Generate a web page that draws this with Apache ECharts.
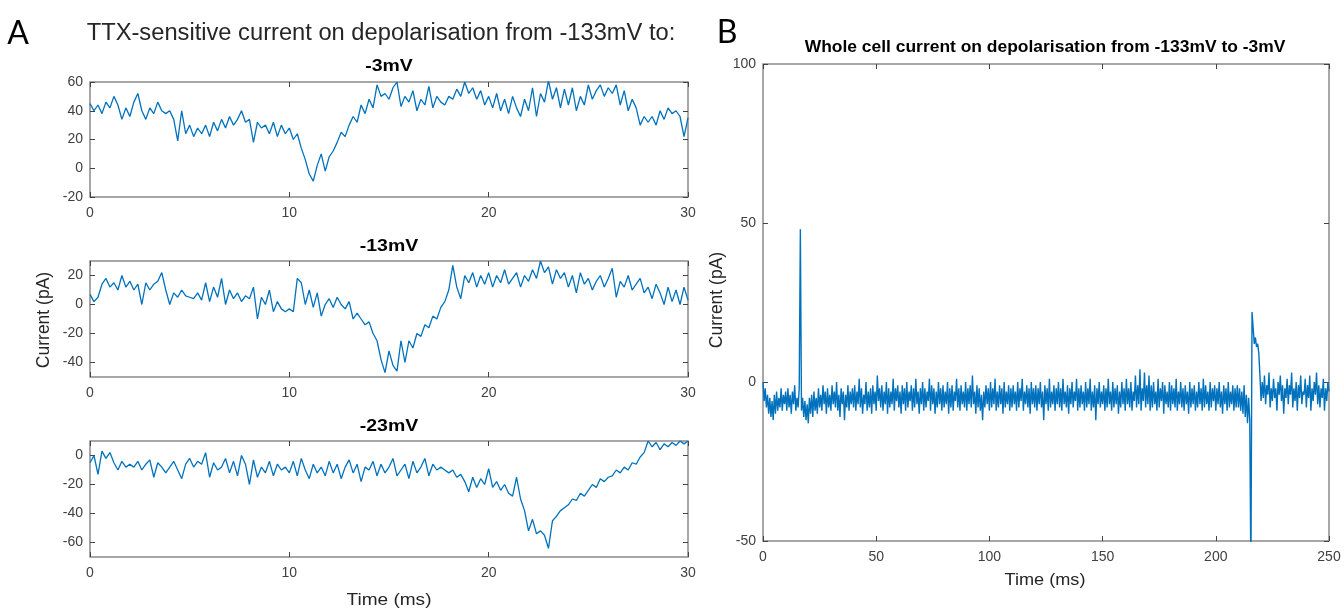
<!DOCTYPE html>
<html><head><meta charset="utf-8">
<script src="https://cdn.jsdelivr.net/npm/echarts@6/dist/echarts.min.js"></script>
<style>html,body{margin:0;padding:0;background:#fff}#c{width:1344px;height:612px}</style>
</head><body><div id="c"></div>
<script>
// ---------------- DATA ----------------
const panelLabels = ['A', 'B'];
const titleA = 'TTX-sensitive current on depolarisation from -133mV to:';
const titleB = 'Whole cell current on depolarisation from -133mV to -3mV';
const panelTitlesA = ['-3mV', '-13mV', '-23mV'];
const axisNameY = 'Current (pA)';
const axisNameX = 'Time (ms)';

const stepA = 0.2; // ms between samples in panel A traces
const currentA3mV = [
  45,40,44,38,46,42,50,44,34,42,
  36,46,52,40,34,42,38,46,40,38,
  40,34,19,40,24,30,22,28,24,30,
  22,32,26,34,28,36,30,34,40,32,
  34,18,32,28,30,24,32,22,30,24,
  28,20,24,14,6,-4,-9,2,10,-2,
  8,12,18,25,22,30,36,32,44,38,
  48,42,58,50,52,48,56,60,43,50,
  46,54,40,48,44,57,42,50,46,44,
  50,48,55,50,60,52,56,48,54,44,
  50,42,52,40,48,38,50,42,36,48,
  40,56,36,52,46,61,48,56,42,55,
  44,56,40,50,44,58,48,54,58,50,
  56,52,58,44,54,40,48,42,30,36,
  32,36,30,40,34,42,38,40,36,22,
  35
];
const currentA13mV = [
  7,2,5,14,18,12,15,10,20,12,
  16,10,14,0,15,10,14,16,22,10,
  0,8,5,10,6,5,4,8,3,15,
  2,12,5,18,0,10,4,8,2,6,
  4,12,-10,5,0,10,-5,2,-3,-5,
  -3,-5,18,15,0,10,-2,8,-8,0,
  4,-2,5,0,-3,2,-10,-6,-10,-14,
  -12,-20,-25,-38,-47,-32,-42,-46,-25,-40,
  -25,-30,-20,-22,-14,-16,-8,-10,-2,2,
  10,27,12,4,20,15,22,12,20,14,
  22,12,20,15,24,14,18,22,12,20,
  16,24,18,30,22,26,14,24,18,22,
  12,20,8,22,14,18,10,16,20,12,
  18,25,5,16,12,20,10,14,18,8,
  12,4,14,8,0,12,2,10,0,12,
  3
];
const currentA23mV = [
  -5,0,-13,3,-2,2,-5,-10,-4,-8,
  -6,-8,-4,-10,-6,-3,-15,-5,-8,-12,
  -8,-4,-10,-16,-6,-2,-8,-4,-6,2,
  -15,-5,-10,-8,-2,-12,-4,-14,0,-6,
  -20,-3,-15,-8,-12,-4,-14,-6,-10,-8,
  -12,-4,-14,-2,-10,-16,-6,-12,-8,-14,
  -4,-12,-6,-16,-8,-3,-12,-6,-18,-8,
  -10,-4,-14,-6,-12,-8,-2,-14,-10,-6,
  -16,-4,-12,-8,-2,-14,-6,-10,-8,-10,
  -12,-10,-15,-13,-18,-25,-15,-22,-16,-20,
  -9,-22,-18,-24,-20,-26,-28,-15,-30,-38,
  -52,-44,-54,-52,-55,-64,-45,-42,-38,-36,
  -34,-30,-31,-26,-28,-24,-20,-22,-16,-18,
  -15,-14,-10,-12,-8,-10,-5,-6,-1,2,
  10,6,9,4,8,6,9,7,10,8,
  10
];

const stepB = 0.5; // ms between samples in panel B trace
const currentB = [
  0,-6,-2,-8,-4,-10,-5,-11,-6,-12,-4,-10,-3,-9,-5,-8,-2,-9,-4,-7,
  -3,-9,-2,-8,-4,-10,-3,-7,-1,-9,-5,-8,-2,48,-9,-5,-11,-6,-12,-7,
  -13,-5,-10,-4,-11,-3,-9,-5,-10,-2,-8,-4,-9,-1,-7,-3,-10,-2,-8,-4,
  -9,-1,-7,-3,-8,0,-9,-4,-11,-2,-7,-3,-12,-4,-8,-1,-9,-3,-7,-2,
  -8,-1,-9,-3,-7,1,-8,-2,-10,-4,-7,0,-9,-3,-8,-2,-10,-1,-7,-3,
  -9,2,-6,-2,-8,-1,-9,-3,-7,0,-10,-2,-8,-3,-7,1,-9,-2,-6,-1,
  -8,-3,-10,-1,-7,-2,-9,0,-8,-3,-6,-1,-9,-2,-8,1,-7,-3,-10,-2,
  -7,0,-9,-2,-8,-3,-6,1,-9,-1,-7,-2,-10,-3,-8,0,-7,-2,-9,-1,
  -8,-3,-7,0,-10,-2,-8,-1,-9,-3,-6,1,-8,-2,-9,-1,-7,-3,-8,0,
  -9,-2,-7,-1,-8,2,-7,-3,-10,-1,-8,-2,-9,-4,-12,-3,-8,-1,-7,-2,
  -9,0,-8,-2,-7,1,-9,-3,-8,-1,-7,-2,-10,0,-8,-3,-7,-1,-9,-2,
  -8,-1,-7,-3,-9,0,-8,-2,-6,1,-9,-3,-7,-1,-8,-2,-10,0,-7,-2,
  -8,-1,-9,-2,-7,0,-8,-3,-12,-1,-7,-2,-9,1,-8,-3,-7,-1,-9,-2,
  -7,0,-8,-2,-9,1,-7,-3,-8,-1,-10,-2,-7,0,-8,-3,-6,1,-9,-2,
  -8,-1,-7,-3,-9,0,-8,-2,-7,1,-9,-3,-8,-1,-12,-2,-7,0,-8,-3,
  -7,-1,-9,-2,-8,1,-7,-3,-9,0,-8,-2,-7,-1,-10,-3,-8,0,-7,-2,
  -9,1,-7,-2,-8,0,-9,-3,-6,2,-8,-1,-7,4,-9,-2,-6,3,-8,-1,
  -7,2,-9,-1,-8,0,-7,-3,-9,1,-8,-2,-6,0,-10,-1,-7,-3,-8,0,
  -9,-1,-7,-2,-8,1,-9,-3,-7,0,-8,-2,-9,-1,-7,-3,-10,0,-8,-2,
  -7,-1,-9,-3,-8,0,-7,-2,-9,1,-8,-1,-7,-3,-9,0,-8,-2,-6,-1,
  -9,-2,-7,0,-8,-3,-10,-1,-7,-2,-9,0,-8,-3,-7,-1,-9,-2,-8,-1,
  -8,-2,-9,-3,-10,-1,-11,-4,-13,-5,-12,-60,22,17,12,14,11,12,9,2,
  -6,0,-5,2,-7,-1,-4,3,-8,-2,-6,1,-5,-2,-9,0,-4,2,-6,-1,
  -10,-2,-5,1,-7,-1,-4,3,-8,-2,-6,0,-9,-1,-5,2,-7,-3,-4,1,
  -8,-1,-5,2,-9,-2,-6,0,-4,3,-7,-1,-8,-2,-5,1,-9,-2,-6,0,
  -3
];

const xTicksA = [0, 10, 20, 30];
const yTicksA = [[-20, 0, 20, 40, 60], [-40, -20, 0, 20], [-60, -40, -20, 0]];
const yRangesA = [[-20, 60], [-50, 30], [-70, 10]];
const xTicksB = [0, 50, 100, 150, 200, 250];
const yTicksB = [-50, 0, 50, 100];

// ---------------- LAYOUT / STYLE ----------------
const FONT = '"Liberation Sans", Arial, Helvetica, sans-serif';
const LINE = '#0072BD';
const TXT = '#404040';
const gridsPx = [
  {left: 90, top: 82, width: 598, height: 115},
  {left: 90, top: 261, width: 598, height: 116},
  {left: 90, top: 441, width: 598, height: 116},
  {left: 763, top: 64, width: 566, height: 477}
];

const grid = gridsPx.map(g => Object.assign({show: true, borderColor: '#8a8a8a', borderWidth: 1.5, backgroundColor: 'transparent'}, g));
const xAxis = [], yAxis = [], series = [];

function tickCfg(vals) {
  return {show: true, inside: true, length: 5, lineStyle: {color: '#444', width: 1}, customValues: vals};
}
function addAxes(gi, xr, xt, yr, yt, fs) {
  const base = {type: 'value', gridIndex: gi, axisLine: {show: false, onZero: false}, splitLine: {show: false}};
  xAxis.push(Object.assign({}, base, {position: 'bottom', min: xr[0], max: xr[1],
    axisTick: tickCfg(xt), axisLabel: {customValues: xt, color: TXT, fontSize: fs, fontFamily: FONT, margin: 9}}));
  xAxis.push(Object.assign({}, base, {position: 'top', min: xr[0], max: xr[1],
    axisTick: tickCfg(xt), axisLabel: {show: false}}));
  yAxis.push(Object.assign({}, base, {position: 'left', min: yr[0], max: yr[1],
    axisTick: tickCfg(yt), axisLabel: {customValues: yt, color: TXT, fontSize: fs, fontFamily: FONT, margin: 7}}));
  yAxis.push(Object.assign({}, base, {position: 'right', min: yr[0], max: yr[1],
    axisTick: tickCfg(yt), axisLabel: {show: false}}));
}
function addTrace(gi, values, step, width) {
  series.push({type: 'line', xAxisIndex: gi * 2, yAxisIndex: gi * 2, showSymbol: false, symbol: 'none',
    clip: true, animation: false, lineStyle: {color: LINE, width: width},
    data: values.map((v, i) => [i * step, v])});
}

const tracesA = [currentA3mV, currentA13mV, currentA23mV];
for (let k = 0; k < 3; k++) {
  addAxes(k, [0, 30], xTicksA, yRangesA[k], yTicksA[k], 14);
  addTrace(k, tracesA[k], stepA, 1.3);
}
addAxes(3, [0, 250], xTicksB, [-50, 100], yTicksB, 14);
addTrace(3, currentB, stepB, 1.4);

function txt(x, y, text, size, opts) {
  opts = opts || {};
  return Object.assign({type: 'text', x: x, y: y, silent: true,
    style: Object.assign({text: text, fontSize: size, fontFamily: FONT, fill: '#262626', align: 'center', verticalAlign: 'middle'}, opts.style || {})},
    opts.el || {});
}
const bold = {fontWeight: 'bold', fill: '#000'};
const graphic = [
  txt(18, 34, panelLabels[0], 32, {style: {fontFamily: 'Lato, "Open Sans", sans-serif', fill: '#000'}}),
  txt(727, 33, panelLabels[1], 32, {style: {fontFamily: 'Lato, "Open Sans", sans-serif', fill: '#000'}}),
  txt(381, 34, titleA, 23, {el: {scaleX: 1.03}}),
  txt(389, 66, panelTitlesA[0], 16.5, {style: bold, el: {scaleX: 1.18}}),
  txt(389, 246, panelTitlesA[1], 16.5, {style: bold, el: {scaleX: 1.18}}),
  txt(389, 426, panelTitlesA[2], 16.5, {style: bold, el: {scaleX: 1.18}}),
  txt(1045, 48, titleB, 16, {style: bold, el: {scaleX: 1.09}}),
  txt(44, 320, axisNameY, 17.5, {el: {rotation: Math.PI / 2}}),
  txt(389, 600, axisNameX, 17, {el: {scaleX: 1.12}}),
  txt(717, 300, axisNameY, 17.5, {el: {rotation: Math.PI / 2}}),
  txt(1045, 580, axisNameX, 16.5, {el: {scaleX: 1.1}})
];

const chart = echarts.init(document.getElementById('c'), null, {renderer: 'canvas'});
chart.setOption({animation: false, backgroundColor: '#fff', grid, xAxis, yAxis, series, graphic});
</script>
</body></html>
